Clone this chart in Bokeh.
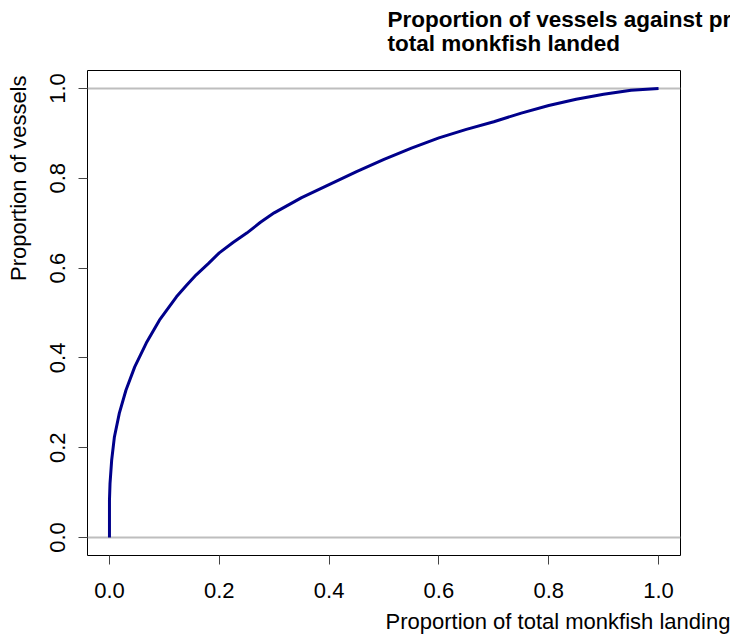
from bokeh.plotting import figure
from bokeh.models import Range1d, FixedTicker, Span, Title, LinearAxis, PrintfTickFormatter
from bokeh.embed import file_html
from bokeh.resources import INLINE

# ---- data ----
landings_prop = [0.0, 0.0, 0.001, 0.004, 0.009, 0.018, 0.030, 0.046, 0.067, 0.091,
                 0.122, 0.14, 0.158, 0.18, 0.20, 0.225, 0.25, 0.275, 0.30, 0.35,
                 0.40, 0.45, 0.50, 0.55, 0.60, 0.65, 0.70, 0.75, 0.80, 0.85,
                 0.90, 0.95, 1.0]
vessels_prop = [0.0, 0.083, 0.12, 0.172, 0.224, 0.277, 0.328, 0.38, 0.433, 0.484,
                0.536, 0.561, 0.585, 0.61, 0.634, 0.657, 0.678, 0.702, 0.723, 0.757,
                0.786, 0.815, 0.842, 0.867, 0.89, 0.909, 0.926, 0.945, 0.962, 0.976,
                0.987, 0.996, 1.0]
x_ticks = [0.0, 0.2, 0.4, 0.6, 0.8, 1.0]
y_ticks = [0.0, 0.2, 0.4, 0.6, 0.8, 1.0]
ref_levels = [0.0, 1.0]
title_text = "Proportion of vessels against proportion of\ntotal monkfish landed"
x_label = "Proportion of total monkfish landings"
y_label = "Proportion of vessels"

FONT = "Liberation Sans"
FS = "22px"

p = figure(width=730, height=641, output_backend="svg", toolbar_location=None,
           x_range=Range1d(-0.04, 1.04), y_range=Range1d(-0.04, 1.04),
           min_border_left=87, min_border_right=50, min_border_top=70,
           min_border_bottom=86, title=None)
p.background_fill_color = "white"
p.border_fill_color = "white"
p.xgrid.visible = False
p.ygrid.visible = False
p.outline_line_color = "black"
p.outline_line_width = 1

for ax, ticks in ((p.xaxis, x_ticks), (p.yaxis, y_ticks)):
    ax.ticker = FixedTicker(ticks=ticks)
    ax.formatter = PrintfTickFormatter(format="%.1f")
    ax.axis_line_color = None
    ax.major_tick_in = 0
    ax.major_tick_out = 9
    ax.major_tick_line_color = "#444444"
    ax.minor_tick_line_color = None
    ax.major_label_text_font = FONT
    ax.major_label_text_font_size = FS
    ax.major_label_text_color = "black"
p.xaxis.major_label_standoff = 18
p.yaxis.major_label_standoff = 13
p.yaxis.major_label_orientation = "vertical"


def spacer(size):
    # an axis that draws nothing and only reserves `size` pixels of margin
    return LinearAxis(ticker=FixedTicker(ticks=[0.5]), major_tick_out=size, major_tick_in=0,
                      axis_line_color=None, major_tick_line_color=None,
                      minor_tick_line_color=None, major_label_standoff=0,
                      major_label_overrides={0.5: ""}, major_label_text_font_size="1px")


for lv in ref_levels:
    p.add_layout(Span(location=lv, dimension="width", line_color="#BEBEBE",
                      line_width=2, level="underlay"))

p.line(landings_prop, vessels_prop, line_color="#00008B", line_width=3)

# title (above), x label (below), y label (left)
p.add_layout(spacer(13), "above")
p.add_layout(Title(text=title_text, align="left", offset=300, vertical_align="top",
                   standoff=0, text_font=FONT, text_font_size="22.5px",
                   text_font_style="bold", text_color="black", text_line_height=0.96),
             "above")
p.add_layout(spacer(8), "below")
p.add_layout(Title(text=x_label, align="left", offset=298, vertical_align="top",
                   standoff=0, text_font=FONT, text_font_size=FS,
                   text_font_style="normal", text_color="black"), "below")
p.add_layout(spacer(15), "left")
p.add_layout(Title(text=y_label, align="right", offset=5, vertical_align="top",
                   standoff=0, text_font=FONT, text_font_size=FS,
                   text_font_style="normal", text_color="black"), "left")

open("out.html", "w").write(file_html(p, INLINE))
